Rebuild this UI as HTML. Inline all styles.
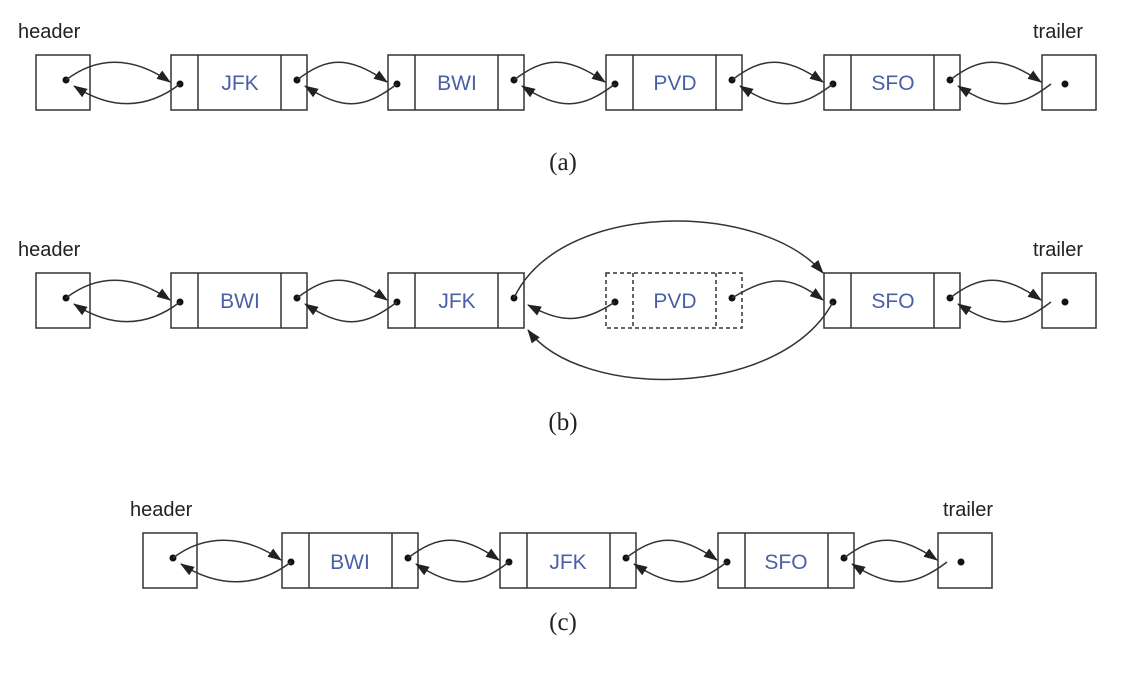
<!DOCTYPE html>
<html><head><style>body{margin:0;background:#fff}svg{display:block}</style></head>
<body>
<svg id="s" width="1126" height="684" viewBox="0 0 1126 684" xmlns="http://www.w3.org/2000/svg">
<defs><marker id="ah" markerWidth="14" markerHeight="10" refX="13" refY="5" orient="auto" markerUnits="userSpaceOnUse"><path d="M0,0 L14,5 L0,10 z" fill="#222"/></marker></defs>
<g font-family="Liberation Sans, sans-serif" font-size="20" fill="#222">
<text x="18" y="38">header</text><text x="1033" y="38">trailer</text>
<text x="18" y="256">header</text><text x="1033" y="256">trailer</text>
<text x="130" y="516">header</text><text x="943" y="516">trailer</text>
</g>
<g font-family="Liberation Serif, serif" font-size="25" fill="#222" text-anchor="middle">
<text x="563" y="170">(a)</text><text x="563" y="430">(b)</text><text x="563" y="630">(c)</text>
</g>
<g id="g" stroke="#333" stroke-width="1.5" fill="none"></g>
<g font-family="Liberation Sans, sans-serif" font-size="21" fill="#4a5fa8" text-anchor="middle">
<text x="240" y="90">JFK</text><text x="457" y="90">BWI</text><text x="675" y="90">PVD</text><text x="893" y="90">SFO</text>
<text x="240" y="308">BWI</text><text x="457" y="308">JFK</text><text x="675" y="308">PVD</text><text x="893" y="308">SFO</text>
<text x="350" y="569">BWI</text><text x="568" y="569">JFK</text><text x="786" y="569">SFO</text>
</g>
</svg>
<script>
var g=document.getElementById('g'),N='http://www.w3.org/2000/svg';
function el(t,a){var e=document.createElementNS(N,t);for(var k in a)e.setAttribute(k,a[k]);g.appendChild(e);return e;}
function dot(x,y){el('circle',{cx:x,cy:y,r:3.5,fill:'#111',stroke:'none'});}
function box(x,y,w,h,d){el('rect',{x:x,y:y,width:w,height:h,'stroke-dasharray':d?'4,3':'none'});}
function node(x,y,d){box(x,y,136,55,d);el('line',{x1:x+27,y1:y,x2:x+27,y2:y+55,'stroke-dasharray':d?'4,3':'none'});el('line',{x1:x+110,y1:y,x2:x+110,y2:y+55,'stroke-dasharray':d?'4,3':'none'});dot(x+9,y+29);dot(x+126,y+25);}
function end(x,y,l){box(x,y,54,55);dot(x+(l?30:23),y+(l?25:29));}
function link(x1,x2,y){ // x1: right dot x, x2: left edge of next box; y: box top
 el('path',{d:'M'+x1+','+(y+25)+' C'+(x1+30)+','+(y+2)+' '+(x2-40)+','+(y+0)+' '+(x2-1)+','+(y+27),'marker-end':'url(#ah)'});
 el('path',{d:'M'+(x2+9)+','+(y+29)+' C'+(x2-25)+','+(y+55)+' '+(x1+45)+','+(y+55)+' '+(x1+8)+','+(y+31),'marker-end':'url(#ah)'});
}
function row(y,xs,hx,tx,dash){
 end(hx,y,true);
 xs.forEach(function(x,i){node(x,y,dash&&dash[i]);});
}
// (a)
row(55,[171,388,606,824],36,1042);
end(1042,55,false);
link(66,171,55);link(297,388,55);link(514,606,55);link(732,824,55);link(950,1042,55);
// (b)
row(273,[171,388,606,824],36,1042,[0,0,1,0]);
end(1042,273,false);
link(66,171,273);link(297,388,273);link(950,1042,273);
el('path',{d:'M514,298 C560,200 760,200 823,273','marker-end':'url(#ah)'});
el('path',{d:'M833,302 C780,400 580,400 528,330','marker-end':'url(#ah)'});
el('path',{d:'M615,302 C580,325 560,322 528,305','marker-end':'url(#ah)'});
el('path',{d:'M732,298 C770,275 790,275 823,300','marker-end':'url(#ah)'});
// (c)
end(143,533,true);
[282,500,718].forEach(function(x){node(x,533);});
end(938,533,false);
link(173,282,533);link(408,500,533);link(626,718,533);link(844,938,533);
</script>
</body></html>
